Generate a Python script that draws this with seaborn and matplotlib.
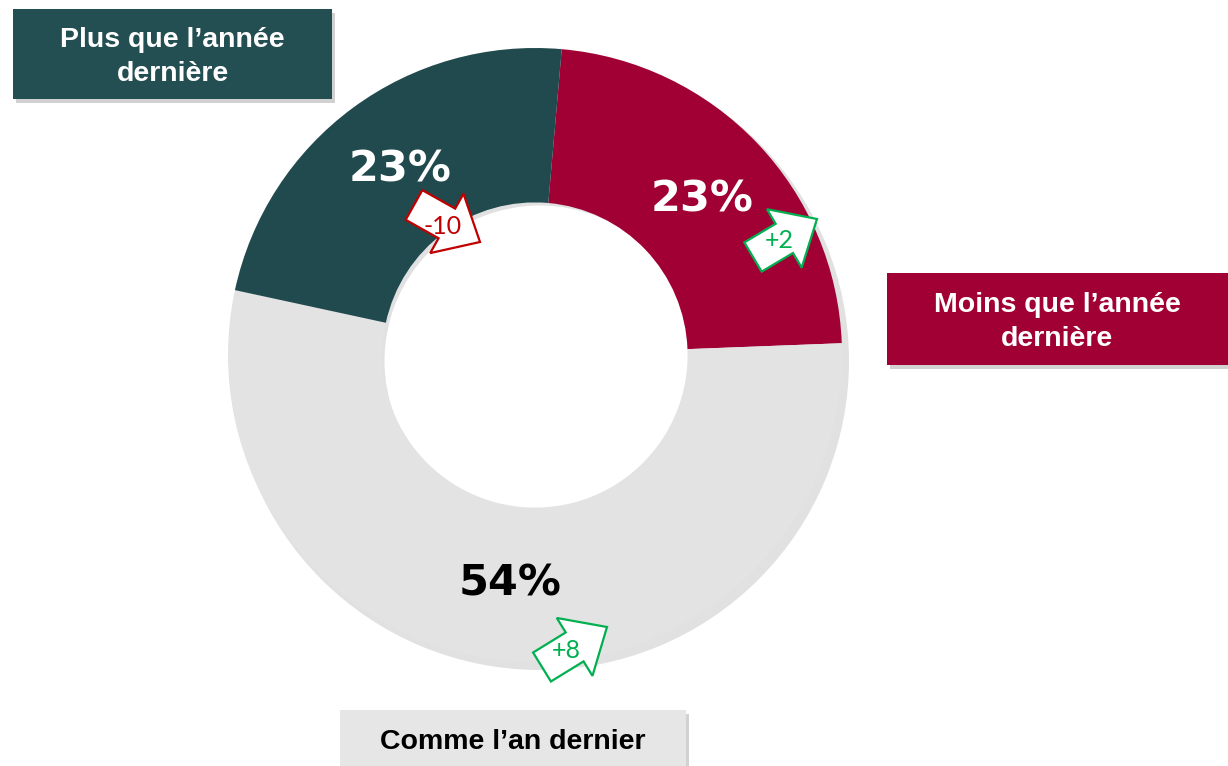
import numpy as np
import matplotlib
matplotlib.use("Agg")
import matplotlib.pyplot as plt
from matplotlib.patches import Rectangle, Polygon
import seaborn as sns

# ---- data ----
categories = ["Moins que l’année dernière", "Comme l’an dernier", "Plus que l’année dernière"]
values = [23, 54, 23]
changes = ["+2", "+8", "-10"]
box_labels = ["Moins que l’année\ndernière", "Comme l’an dernier", "Plus que l’année\ndernière"]

colors = ["#A10035", "#E3E3E3", "#214A4E"]
pct_colors = ["white", "black", "white"]
change_colors = ["#00B050", "#00B050", "#C00000"]

sns.set_theme(style="white")
plt.rcParams['font.family'] = ['DejaVu Sans']

W, H = 1228, 766
fig = plt.figure(figsize=(W / 100, H / 100), dpi=100)
ax = fig.add_axes([0, 0, 1, 1])

cx, cy, R = 535, 766 - 355, 307

# subtle shadow of ring
ax.pie([1], radius=R + 2, center=(cx + 5, cy - 6), colors=["#BDBDBD"],
       wedgeprops=dict(width=R * 0.5, linewidth=0, alpha=0.45), startangle=0)
wedges, _ = ax.pie(values, radius=R, center=(cx, cy), colors=colors,
                   startangle=85, counterclock=False,
                   wedgeprops=dict(width=R * 0.503, linewidth=0))

ax.set_xlim(0, W)
ax.set_ylim(0, H)
ax.set_aspect("equal")
ax.axis("off")

def yv(y):
    return H - y

# percentage labels
pct_pos = [(702, 200), (510, 583), (400, 170)]
for v, (px, py), c in zip(values, pct_pos, pct_colors):
    ax.text(px, yv(py), f"{v}%", ha="center", va="center", fontsize=31,
            fontweight="bold", color=c, family="DejaVu Sans")

# block arrows with change values
def block_arrow(tail, tip, shaft_w, head_w, head_l, ec):
    tx, ty = tail[0], yv(tail[1])
    hx, hy = tip[0], yv(tip[1])
    d = np.array([hx - tx, hy - ty], float)
    L = np.hypot(*d)
    u = d / L
    n = np.array([-u[1], u[0]])
    t0 = np.array([tx, ty])
    base = t0 + u * (L - head_l)
    pts = [t0 + n * shaft_w / 2, base + n * shaft_w / 2, base + n * head_w / 2,
           t0 + u * L, base - n * head_w / 2, base - n * shaft_w / 2, t0 - n * shaft_w / 2]
    ax.add_patch(Polygon(pts, closed=True, facecolor="white", edgecolor=ec,
                         linewidth=1.6, zorder=5))

arrow_geom = [((753, 257), (817, 219)), ((542, 667), (607, 627)), ((414, 205), (480, 242))]
label_pos = [(779, 241), (566, 651), (443, 226)]
for (tail, tip), ch, col, (lx, ly) in zip(arrow_geom, changes, change_colors, label_pos):
    block_arrow(tail, tip, 34, 68, 38, col)
    ax.text(lx, yv(ly), ch, ha="center", va="center", fontsize=18, color=col,
            zorder=6, family="Lato", fontweight="normal")

# category boxes
boxes = [(887, 273, 341, 92), (340, 710, 346, 58), (13, 9, 319, 90)]
box_fc = ["#A10035", "#E6E6E6", "#234E52"]
box_tc = ["white", "black", "white"]
for (bx, by, bw, bh), lab, fc, tc in zip(boxes, box_labels, box_fc, box_tc):
    ax.add_patch(Rectangle((bx + 3, yv(by + bh) - 4), bw, bh, facecolor="#9A9A9A",
                           alpha=0.45, linewidth=0, zorder=3))
    ax.add_patch(Rectangle((bx, yv(by + bh)), bw, bh, facecolor=fc, linewidth=0, zorder=4))
    ax.text(bx + bw / 2, yv(by + bh / 2 + 3), lab, ha="center", va="center",
            fontsize=20.5, fontweight="bold", color=tc, family="Liberation Sans",
            linespacing=1.4, zorder=5)

fig.savefig("out.png", dpi=100)
